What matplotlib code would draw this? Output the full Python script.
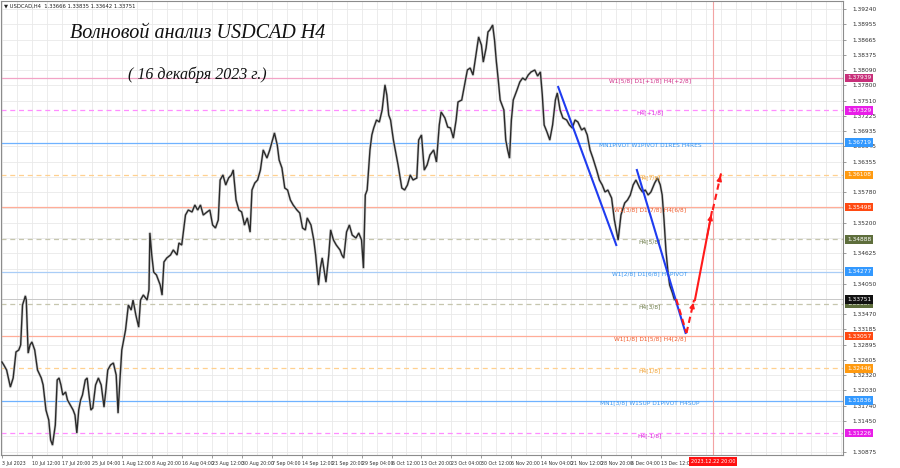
import matplotlib
matplotlib.use("Agg")
import matplotlib.pyplot as plt
import matplotlib.transforms as mtransforms

# ---------------- data ----------------
bar_idx = [0, 2, 5, 9, 12, 15, 18, 20, 22, 25, 26, 28, 30, 32, 35, 38, 42, 44, 47, 50,
           52, 54, 57, 59, 61, 63, 65, 68, 70, 73, 76, 78, 80, 82, 84, 86, 89, 91, 93, 95,
           97, 100, 103, 106, 109, 111, 113, 116, 119, 122, 124, 126, 128, 130, 132, 135, 138, 140, 143, 146,
           148, 151, 155, 157, 158, 160, 162, 165, 169, 171, 173, 176, 180, 183, 187, 189, 192, 194, 196, 199,
           203, 206, 209, 212, 215, 219, 222, 225, 228, 231, 233, 236, 239, 242, 245, 247, 250, 253, 256, 259,
           262, 265, 267, 270, 273, 276, 279, 283, 286, 289, 291, 294, 296, 299, 302, 305, 308, 311, 315, 318,
           321, 324, 326, 330, 333, 335, 338, 340, 342, 346, 349, 351, 354, 357, 361, 363, 365, 368, 371, 374,
           378, 381, 384, 386, 388, 390, 393, 395, 397, 400, 403, 406, 409, 411, 413, 415, 418, 421, 423, 427,
           430, 433, 436, 439, 443, 445, 448, 451, 454, 457, 461, 464, 467, 469, 473, 476, 479, 482, 485, 487,
           491, 494, 497, 500, 503, 507, 509, 512, 514, 517, 519, 521, 524, 526, 528, 530, 532, 536, 538, 540,
           542, 544, 546, 550, 553, 556, 559, 562, 565, 569, 572, 575, 577, 579, 582, 585, 588, 591, 593, 596,
           599, 603, 606, 609, 612, 615, 619, 622, 625, 628, 631, 635, 638, 641, 644, 647, 651, 654, 656, 658,
           661, 665, 668, 671, 674, 677, 681, 684, 687, 690, 693, 697, 700, 703, 705, 707, 709, 711, 713, 716,
           718]
close = [1.32569, 1.32512, 1.32417, 1.32096, 1.32266, 1.32758, 1.32796, 1.32890, 1.33646, 1.33817,
         1.33741, 1.32739, 1.32890, 1.32947, 1.32796, 1.32417, 1.32266, 1.32134, 1.31661, 1.31472,
         1.31094, 1.30999, 1.31377, 1.32228, 1.32266, 1.32134, 1.31945, 1.32001, 1.31850, 1.31755,
         1.31661, 1.31566, 1.31226, 1.31661, 1.31850, 1.31945, 1.32228, 1.32266, 1.31945, 1.31661,
         1.31699, 1.32134, 1.32266, 1.32134, 1.31718, 1.32039, 1.32417, 1.32512, 1.32550, 1.32323,
         1.31604, 1.32228, 1.32796, 1.32985, 1.33174, 1.33646, 1.33552, 1.33741, 1.33457, 1.33230,
         1.33741, 1.33836, 1.33741, 1.33930, 1.35008, 1.34592, 1.34270, 1.34214, 1.34025, 1.33836,
         1.34460, 1.34535, 1.34592, 1.34687, 1.34592, 1.34819, 1.34781, 1.35065, 1.35348, 1.35443,
         1.35405, 1.35537, 1.35443, 1.35537, 1.35348, 1.35405, 1.35443, 1.35159, 1.35103, 1.35254,
         1.36010, 1.36105, 1.35916, 1.36048, 1.36105, 1.36199, 1.35632, 1.35443, 1.35405, 1.35159,
         1.35292, 1.35027, 1.35821, 1.35953, 1.36010, 1.36199, 1.36578, 1.36426, 1.36578, 1.36767,
         1.36899, 1.36672, 1.36388, 1.36237, 1.35859, 1.35821, 1.35632, 1.35537, 1.35443, 1.35386,
         1.35103, 1.35065, 1.35292, 1.35159, 1.34876, 1.34592, 1.34025, 1.34346, 1.34535, 1.34081,
         1.34592, 1.35065, 1.34876, 1.34781, 1.34687, 1.34592, 1.34535, 1.35027, 1.35159, 1.34970,
         1.34913, 1.35008, 1.34876, 1.34346, 1.35727, 1.35821, 1.36578, 1.36861, 1.36994, 1.37145,
         1.37107, 1.37334, 1.37807, 1.37618, 1.37239, 1.37145, 1.36767, 1.36483, 1.36294, 1.35859,
         1.35821, 1.35916, 1.36105, 1.36010, 1.36048, 1.36767, 1.36861, 1.36199, 1.36294, 1.36483,
         1.36578, 1.36351, 1.37050, 1.37296, 1.37183, 1.37012, 1.36994, 1.36804, 1.37145, 1.37485,
         1.37523, 1.37807, 1.38090, 1.38128, 1.37996, 1.38469, 1.38714, 1.38563, 1.38242, 1.38506,
         1.38809, 1.38847, 1.38941, 1.38658, 1.38242, 1.37901, 1.37523, 1.37334, 1.36767, 1.36578,
         1.36426, 1.37145, 1.37523, 1.37712, 1.37863, 1.37939, 1.37901, 1.37996, 1.38053, 1.38090,
         1.37977, 1.38053, 1.37618, 1.37050, 1.36918, 1.36767, 1.37050, 1.37523, 1.37655, 1.37334,
         1.37183, 1.37145, 1.37050, 1.36994, 1.37145, 1.37107, 1.36956, 1.36994, 1.36861, 1.36578,
         1.36426, 1.36199, 1.36010, 1.35916, 1.35783, 1.35821, 1.35670, 1.35254, 1.35065, 1.34876,
         1.35348, 1.35575, 1.35632, 1.35727, 1.35916, 1.36010, 1.35859, 1.35783, 1.35821, 1.35727,
         1.35783, 1.35953, 1.36048, 1.35916, 1.35727, 1.35254, 1.34687, 1.34308, 1.34025, 1.33873,
         1.33751]

x_tick_pos = [0, 32, 64, 96, 128, 160, 192, 224, 256, 288, 320, 352, 384, 416, 448, 480,
              512, 544, 576, 608, 640, 672, 704]
x_tick_labels = ["3 Jul 2023", "10 Jul 12:00", "17 Jul 20:00", "25 Jul 04:00", "1 Aug 12:00",
                 "8 Aug 20:00", "16 Aug 04:00", "23 Aug 12:00", "30 Aug 20:00", "7 Sep 04:00",
                 "14 Sep 12:00", "21 Sep 20:00", "29 Sep 04:00", "6 Oct 12:00", "13 Oct 20:00",
                 "23 Oct 04:00", "30 Oct 12:00", "6 Nov 20:00", "14 Nov 04:00", "21 Nov 12:00",
                 "28 Nov 20:00", "6 Dec 04:00", "13 Dec 12:00"]

price_ticks = [1.39240, 1.38955, 1.38665, 1.38375, 1.38090, 1.37800, 1.37510, 1.37225, 1.36935,
               1.36645, 1.36355, 1.36065, 1.35780, 1.35490, 1.35200, 1.34910, 1.34625, 1.34335,
               1.34050, 1.33760, 1.33470, 1.33185, 1.32895, 1.32605, 1.32320, 1.32030, 1.31740,
               1.31450, 1.31160, 1.30875]

levels = [1.37939, 1.37329, 1.36719, 1.36108, 1.35498, 1.34888, 1.34277, 1.33667,
          1.33057, 1.32446, 1.31836, 1.31226]
level_names = ["W1[5/8] D1[+1/8] H4[+2/8]", "H4[+1/8]", "MN1PIVOT W1PIVOT D1RES H4RES",
               "H4[7/8]", "W1[3/8] D1[7/8] H4[6/8]", "H4[5/8]", "W1[2/8] D1[6/8] H4PIVOT",
               "H4[3/8]", "W1[1/8] D1[5/8] H4[2/8]", "H4[1/8]", "MN1[3/8] W1SUP D1PIVOT H4SUP",
               "H4[-1/8]"]
level_kinds = ["pink", "mag", "blue", "orange", "red", "olive", "lblue", "olive", "red",
               "orange", "blue", "mag"]

last_price = 1.33751
header = "\u25BC USDCAD,H4  1.33666 1.33835 1.33642 1.33751"
future_label = "2023.12.22 20:00"
future_idx = 759.5

# wave lines (bar index, price)
blue1_x, blue1_y = [594, 656], [1.37769, 1.34781]
blue2_x, blue2_y = [678, 730], [1.36199, 1.33117]
red_dash1_x, red_dash1_y = [720, 731], [1.33760, 1.33117]
red_dash2_x, red_dash2_y = [731, 739], [1.33117, 1.33741]
red_solid_x, red_solid_y = [740, 758], [1.33741, 1.35405]
red_dash3_x, red_dash3_y = [759, 768], [1.35443, 1.36143]

title1 = "Волновой анализ USDCAD H4"
title2 = "( 16 декабря 2023 г.)"

# ---------------- styles ----------------
styles = {
    "pink":   dict(line="#f2a3c6", ls="-",  txt="#d0308a", box="#c8307a"),
    "mag":    dict(line="#ff8cff", ls="--", txt="#e020e0", box="#e81ee8"),
    "blue":   dict(line="#6fb2ff", ls="-",  txt="#3a96f0", box="#3399ff"),
    "lblue":  dict(line="#a9cdf7", ls="-",  txt="#3a96f0", box="#3399ff"),
    "orange": dict(line="#ffd08f", ls="--", txt="#f0a030", box="#ff9a10"),
    "red":    dict(line="#ffad98", ls="-",  txt="#f05a2a", box="#ff4a12"),
    "olive":  dict(line="#c6c6ae", ls="--", txt="#6b7b48", box="#5e6e3c"),
}

fig = plt.figure(figsize=(9, 4.68), dpi=100)
fig.patch.set_facecolor("white")
ax = fig.add_axes([0.001, 13 / 468, 842 / 900, 454 / 468])
ax.set_facecolor("white")

ax.set_xlim(-1.1, 898)
ax.set_ylim(1.30810, 1.39395)

# grid
for gx in range(0, 898, 16):
    ax.axvline(gx, color="#e9e9e9", lw=0.6, zorder=0)
for gy in price_ticks:
    ax.axhline(gy, color="#e9e9e9", lw=0.6, zorder=0)

# level lines
for lv, name, kind in zip(levels, level_names, level_kinds):
    st = styles[kind]
    if st["ls"] == "--":
        ax.axhline(lv, color=st["line"], lw=0.9, ls=(0, (4, 3)), zorder=1)
    else:
        ax.axhline(lv, color=st["line"], lw=0.9, zorder=1)
    ax.text(692, lv, name, color=st["txt"], fontsize=4.2, ha="center", va="top", zorder=4)

# bid line
ax.axhline(last_price, color="#c8c8c8", lw=0.7, zorder=1)

# future vertical line
ax.axvline(future_idx, color="#f3a3a3", lw=0.8, zorder=1)

# price series (light grey bar halo + dark close line)
ax.plot(bar_idx, close, color="#cfcfcf", lw=1.9, zorder=2, solid_joinstyle="round")
ax.plot(bar_idx, close, color="#2a2a2a", lw=1.0, zorder=3, solid_joinstyle="miter")

# wave lines
ax.plot(blue1_x, blue1_y, color="#1f3cf0", lw=1.5, zorder=5)
ax.plot(blue2_x, blue2_y, color="#1f3cf0", lw=1.5, zorder=5)
red = "#ff1a1a"
ax.plot(red_dash1_x, red_dash1_y, color=red, lw=1.5, ls=(0, (3, 2)), zorder=5)
ax.plot(red_dash2_x, red_dash2_y, color=red, lw=1.5, ls=(0, (3, 2)), zorder=5)
ax.plot(red_solid_x, red_solid_y, color=red, lw=1.5, zorder=5)
ax.plot(red_dash3_x, red_dash3_y, color=red, lw=1.5, ls=(0, (3, 2)), zorder=5)
for xs, ys in [(red_dash2_x, red_dash2_y), (red_solid_x, red_solid_y), (red_dash3_x, red_dash3_y)]:
    ax.annotate("", xy=(xs[1], ys[1]), xytext=(xs[0] + (xs[1] - xs[0]) * 0.7, ys[0] + (ys[1] - ys[0]) * 0.7),
                arrowprops=dict(arrowstyle="-|>", color=red, lw=1.2, mutation_scale=7), zorder=6)

# axes styling
for sp in ax.spines.values():
    sp.set_color("#8c8c8c")
    sp.set_linewidth(0.8)

# right price scale: ticks hidden under level boxes are not shown (as in the terminal)
covered = levels + [last_price]
shown_ticks = [p for p in price_ticks if min(abs(p - c) for c in covered) > 0.0007]
ax.yaxis.tick_right()
ax.set_yticks(shown_ticks)
ax.set_yticklabels([f"{p:.5f}" for p in shown_ticks])
ax.tick_params(axis="y", labelsize=4.2, length=2, pad=5, colors="#8c8c8c", labelcolor="#303030", width=0.6)
ax.set_xticks(x_tick_pos)
ax.set_xticklabels(x_tick_labels, ha="left")
ax.tick_params(axis="x", labelsize=3.4, length=2, pad=2, colors="#8c8c8c", labelcolor="#303030", width=0.6)

# level value boxes on the right axis
trans = mtransforms.blended_transform_factory(ax.transAxes, ax.transData)
for lv, kind in zip(levels, level_kinds):
    st = styles[kind]
    ax.text(1.005, lv, f"{lv:.5f}", transform=trans, fontsize=4.2, color="white", ha="left", va="center",
            bbox=dict(boxstyle="square,pad=0.3", fc=st["box"], ec="none"), clip_on=False, zorder=10)
ax.text(1.005, last_price, f"{last_price:.5f}", transform=trans, fontsize=4.2, color="white", ha="left",
        va="center", bbox=dict(boxstyle="square,pad=0.3", fc="#111111", ec="none"), clip_on=False, zorder=11)

# future date box at bottom
transx = mtransforms.blended_transform_factory(ax.transData, ax.transAxes)
ax.text(future_idx, -0.008, future_label, transform=transx, fontsize=3.6, color="white", ha="center", va="top",
        bbox=dict(boxstyle="square,pad=0.4", fc="#ff1010", ec="none"), clip_on=False, zorder=11)

# header and titles
fig.text(0.004, 0.992, header, fontsize=3.8, color="#202020", ha="left", va="top")
fig.text(70 / 900, 1 - 33 / 468, title1, fontsize=14.5, family="Liberation Serif", style="italic",
         color="#111111", ha="left", va="center")
fig.text(128 / 900, 1 - 75 / 468, title2, fontsize=11.5, family="Liberation Serif", style="italic",
         color="#111111", ha="left", va="center")

fig.savefig("out.png", dpi=100, facecolor="white")
